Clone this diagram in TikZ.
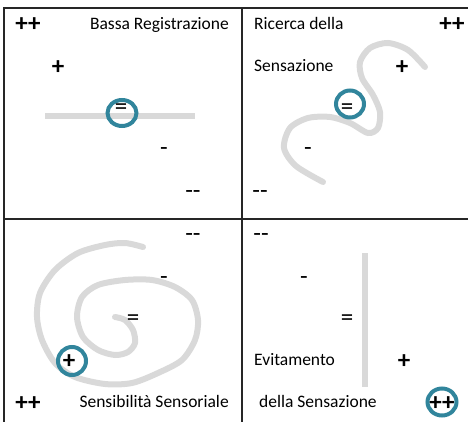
\documentclass[tikz,border=0pt]{standalone}
\usepackage{fontspec}
\setmainfont{Carlito}
\usepackage{tikz}
\definecolor{ringteal}{HTML}{31859C}
\definecolor{trailgray}{HTML}{D9D9D9}

\begin{document}
\begin{tikzpicture}[
  x=1pt, y=-1pt,
  every node/.style={inner sep=0pt, font=\fontsize{17.5}{20}\selectfont},
  lbl/.style={anchor=base},
  sign/.style={anchor=base, font=\fontsize{25}{28}\selectfont},
  plus/.style={sign, font=\fontsize{25}{28}\selectfont\bfseries},
  cell border/.style={draw=black!85, line width=1.6pt},
  trail/.style={draw=trailgray, line width=6pt},
  ring/.style={draw=ringteal, line width=4pt}
]
\useasboundingbox (0,0) rectangle (468,422);

% table
\draw[cell border] (4,422) -- (4,8) -- (468,8);
\draw[cell border] (242,8) -- (242,422);
\draw[cell border] (4,219) -- (468,219);

% gray trails
\draw[trail] (45,116) -- (195,116);
\draw[trail, line cap=round] plot[smooth] coordinates {
  (323,182) (296,166) (284,148) (290,128) (308,118) (330,117) (350,123)
  (368,133) (378,128) (380,112) (373,95) (362,78) (360,62) (370,48)
  (388,43) (408,50) (425,67)};
\draw[trail, line cap=round] plot[smooth] coordinates {
  (115,317) (125,320) (133,330) (135,343) (128,352) (115,355) (98,350)
  (83,337) (77,317) (82,297) (98,285) (125,280) (152,280) (175,287)
  (192,300) (198,320) (195,340) (182,360) (158,373) (132,383) (105,384)
  (75,377) (55,363) (42,340) (37,317) (40,293) (55,270) (78,253)
  (105,245) (125,243) (143,247)};
\draw[trail] (365,253) -- (365,387);

% rings
\draw[ring] (122,113) ellipse [x radius=14.5, y radius=13];
\draw[ring] (350,104) ellipse [x radius=14, y radius=13.5];
\draw[ring] (72,361) ellipse [x radius=14, y radius=14];
\draw[ring] (442,402) ellipse [x radius=14.5, y radius=13.5];

% top left
\node[plus] (tlPP) at (28,32) {++};
\node[lbl, anchor=base east] (tlTitle) at (229,30) {Bassa Registrazione};
\node[plus] (tlP) at (58,75) {+};
\node[sign] (tlEq) at (121,115) {=};
\node[sign] (tlM) at (164,156) {-};
\node[sign] (tlMM) at (193,198) {-{}-};

% top right
\node[lbl, anchor=base west] (trTitleA) at (254,30) {Ricerca della};
\node[plus] (trPP) at (452,32) {++};
\node[lbl, anchor=base west] (trTitleB) at (254,72) {Sensazione};
\node[plus] (trP) at (402,75) {+};
\node[sign] (trEq) at (347,115) {=};
\node[sign] (trM) at (308,156) {-};
\node[sign] (trMM) at (260,198) {-{}-};

% bottom left
\node[sign] (blMM) at (193,241) {-{}-};
\node[sign] (blM) at (164,284) {-};
\node[sign] (blEq) at (133,325) {=};
\node[plus] (blP) at (69,368) {+};
\node[plus] (blPP) at (28,410) {++};
\node[lbl, anchor=base east] (blTitle) at (229,407) {Sensibilità Sensoriale};

% bottom right
\node[sign] (brMM) at (261,241) {-{}-};
\node[sign] (brM) at (304,284) {-};
\node[sign] (brEq) at (347,325) {=};
\node[lbl, anchor=base west] (brTitleA) at (254,365) {Evitamento};
\node[plus] (brP) at (404,368) {+};
\node[lbl, anchor=base west] (brTitleB) at (259,407) {della Sensazione};
\node[plus] (brPP) at (442,410) {++};

\end{tikzpicture}
\end{document}
